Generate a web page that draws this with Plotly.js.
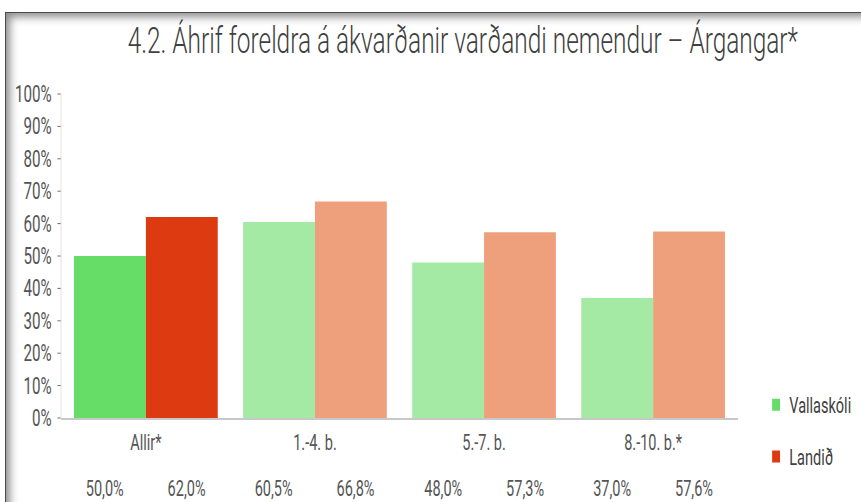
<!DOCTYPE html>
<html>
<head>
<meta charset="utf-8">
<script src="https://cdn.plot.ly/plotly-3.0.1.min.js"></script>
<style>
  html, body { margin: 0; padding: 0; background: #fff; overflow: hidden; }
  #wrap { position: absolute; left: 0; top: 0; width: 861px; height: 502px; overflow: hidden; background: #fff; }
  #chart { position: absolute; left: 0; top: 0; width: 1305px; height: 502px; transform: scaleX(0.6598); transform-origin: 0 0; }
  #frame { position: absolute; left: 5px; top: 12px; width: 856px; height: 490px; pointer-events: none;
           border-left: 1px solid #4a4a4a; border-top: 1px solid #4a4a4a;
           box-shadow: inset 9px 9px 9px -5px rgba(0,0,0,0.45); }
</style>
</head>
<body>
<div id="wrap"><div id="chart"></div><div id="frame"></div></div>
<script>
const categories = ['Allir*', '1.-4. b.', '5.-7. b.', '8.-10. b.*'];
const vallaskoli = [50.0, 60.5, 48.0, 37.0];
const landid = [62.0, 66.8, 57.3, 57.6];
const seriesNames = ['Vallaskóli', 'Landið'];
const yTicks = [0, 10, 20, 30, 40, 50, 60, 70, 80, 90, 100];

const greenColors = ['#66DD66', '#A4E9A4', '#A4E9A4', '#A4E9A4'];
const redColors = ['#DE3A12', '#EEA07C', '#EEA07C', '#EEA07C'];

const FONT = 'Roboto, "Liberation Sans", sans-serif';
const textGray = '#555555';

function fmt(v) { return v.toFixed(1).replace('.', ',') + '%'; }

const traces = [
  { type: 'bar', name: seriesNames[0], x: categories, y: vallaskoli, legendgroup: 'a',
    marker: { color: greenColors }, hoverinfo: 'x+y' },
  { type: 'bar', name: seriesNames[1], x: categories, y: landid, legendgroup: 'b',
    marker: { color: redColors }, hoverinfo: 'x+y' }
];

const annotations = [];
categories.forEach((c, i) => {
  annotations.push({ x: c, xref: 'x', y: -0.219, yref: 'paper', yanchor: 'middle', text: fmt(vallaskoli[i]),
    showarrow: false, xshift: -62, font: { family: FONT, size: 22, color: textGray } });
  annotations.push({ x: c, xref: 'x', y: -0.219, yref: 'paper', yanchor: 'middle', text: fmt(landid[i]),
    showarrow: false, xshift: 62, font: { family: FONT, size: 22, color: textGray } });
});

const layout = {
  width: 1305, height: 502,
  margin: { l: 93, r: 187, t: 94, b: 84 },
  paper_bgcolor: 'rgba(0,0,0,0)', plot_bgcolor: 'rgba(0,0,0,0)',
  separators: ',.',
  title: { text: '4.2. Áhrif foreldra á ákvarðanir varðandi nemendur – Árgangar*',
    font: { family: FONT, size: 37, color: '#404040', weight: 300 },
    x: 0.5375, xref: 'container', xanchor: 'center', y: 0.92, yref: 'container', yanchor: 'middle' },
  barmode: 'group', bargap: 0.15, bargroupgap: 0,
  xaxis: { type: 'category', showgrid: false, showline: true, linecolor: '#c8c8c8', linewidth: 2,
    ticks: '', tickfont: { family: FONT, size: 22, color: textGray }, ticklabelstandoff: 4 },
  yaxis: { range: [0, 100], tickvals: yTicks, ticktext: yTicks.map(v => v + '%'), showgrid: false, zeroline: false,
    showline: true, linecolor: '#dddddd', linewidth: 1, ticks: 'outside', ticklen: 5, tickcolor: '#555',
    tickwidth: 1, tickfont: { family: FONT, size: 23, color: textGray }, ticklabelstandoff: 4 },
  legend: { xref: 'container', yref: 'container', x: 0.886, xanchor: 'left', y: 0.235, yanchor: 'top',
    tracegroupgap: 20, traceorder: 'grouped',
    font: { family: FONT, size: 22, color: '#404040' }, bgcolor: 'rgba(0,0,0,0)' },
  showlegend: true,
  annotations: annotations
};

Plotly.newPlot('chart', traces, layout, { displayModeBar: false, staticPlot: true });
</script>
</body>
</html>
